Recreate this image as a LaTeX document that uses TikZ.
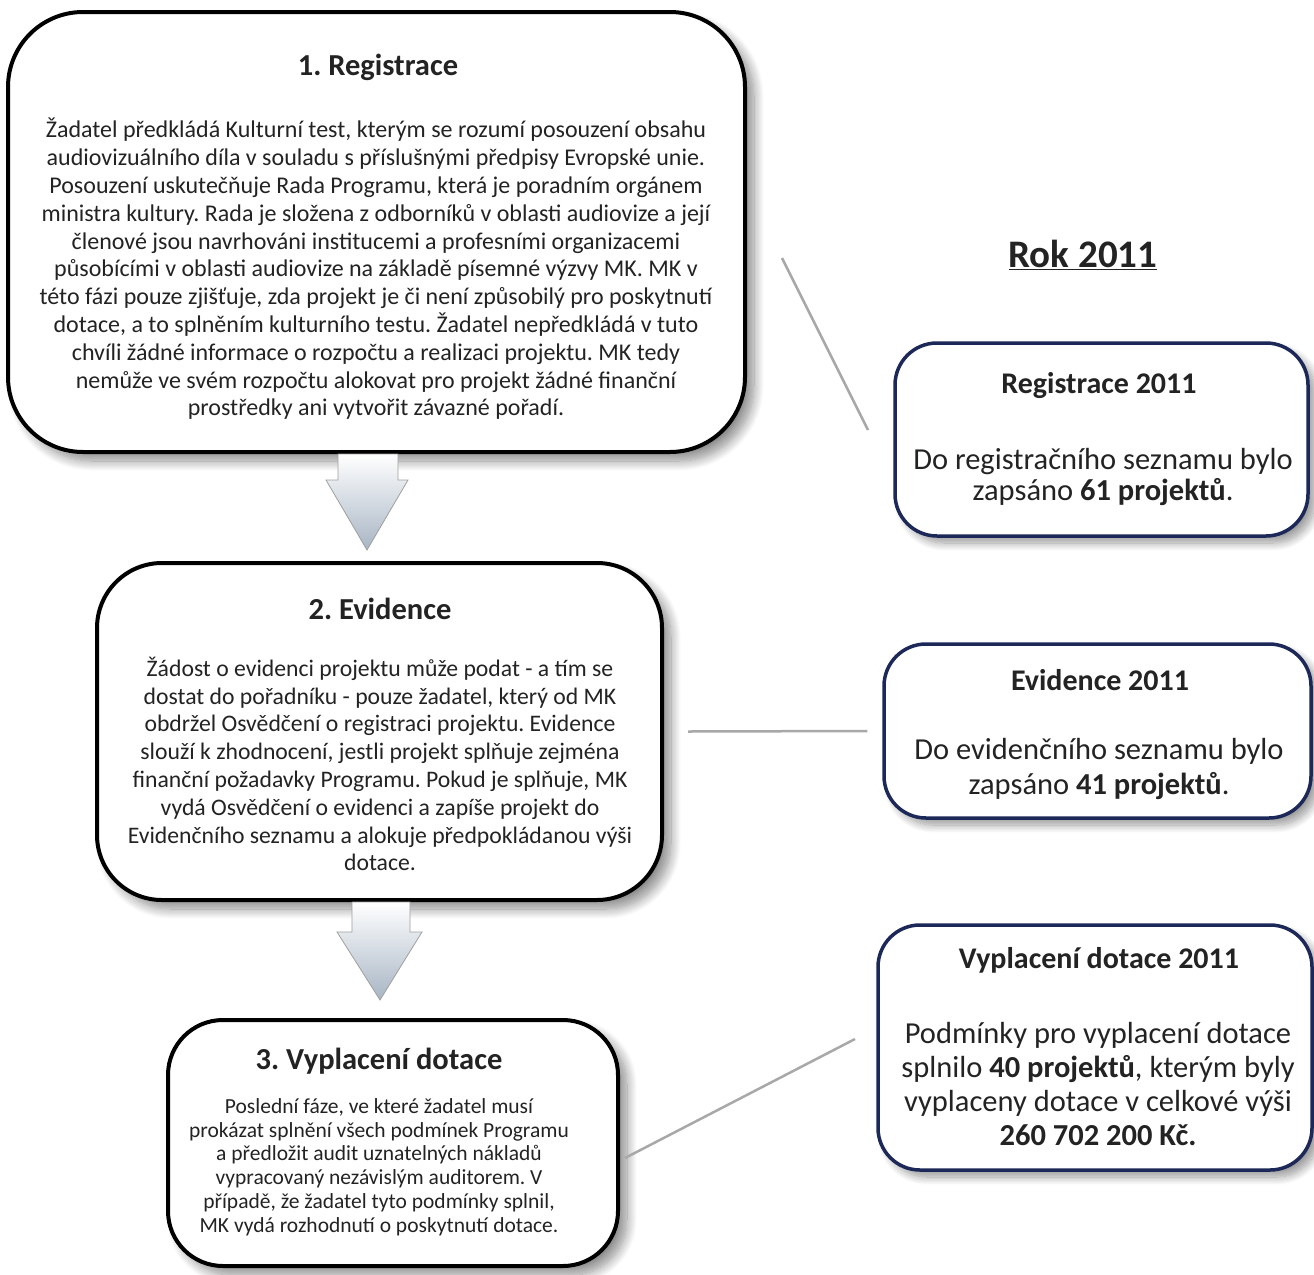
\documentclass[tikz,border=0pt]{standalone}
\usepackage{fontspec}
\setmainfont{Carlito}
\frenchspacing
\usetikzlibrary{shadows.blur}
\definecolor{navyline}{RGB}{28,40,88}
\definecolor{linkgray}{RGB}{168,168,168}
\definecolor{arrowgray}{RGB}{168,181,196}
\definecolor{textgray}{RGB}{35,35,35}

\tikzset{
  stagebox/.style={draw=black, line width=4pt, fill=white, inner sep=0pt,
    blur shadow={shadow xshift=9pt, shadow yshift=-9pt, shadow blur steps=14, shadow blur radius=10pt, shadow opacity=45}},
  yearbox/.style={draw=navyline, line width=3.5pt, fill=white, inner sep=0pt, rounded corners=42pt,
    blur shadow={shadow xshift=7pt, shadow yshift=-7pt, shadow blur steps=12, shadow blur radius=8pt, shadow opacity=40}},
  stagetitle/.style={font=\bfseries\fontsize{30.5}{36}\selectfont, text=textgray, inner sep=0pt},
  stagebody/.style={font=\fontsize{24}{27.8}\selectfont, text=textgray, align=center, inner sep=0pt},
  yeartitle/.style={font=\bfseries\fontsize{30}{36}\selectfont, text=textgray, inner sep=0pt},
  yearbody/.style={font=\fontsize{30.5}{34.3}\selectfont, text=textgray, align=center, inner sep=0pt},
  flowarrow/.style={draw=gray!75, line width=0.8pt, top color=white, bottom color=arrowgray},
  link/.style={draw=linkgray, line width=2.5pt},
}

\begin{document}
\begin{tikzpicture}[x=1pt,y=-1pt]
  \useasboundingbox (0,0) rectangle (1314,1274);
  % stages
  \node[stagebox, rounded corners=75pt, minimum width=737pt, minimum height=440pt] (reg) at (376.5,232) {};
  \node[stagetitle] (regT) at (378,67) {1. Registrace};
  \node[stagebody] (regB) at (376,269) {Žadatel předkládá Kulturní test, kterým se rozumí posouzení obsahu\\
    audiovizuálního díla v souladu s příslušnými předpisy Evropské unie.\\
    Posouzení uskutečňuje Rada Programu, která je poradním orgánem\\
    ministra kultury. Rada je složena z odborníků v oblasti audiovize a její\\
    členové jsou navrhováni institucemi a profesními organizacemi\\
    působícími v oblasti audiovize na základě písemné výzvy MK. MK v\\
    této fázi pouze zjišťuje, zda projekt je či není způsobilý pro poskytnutí\\
    dotace, a to splněním kulturního testu. Žadatel nepředkládá v tuto\\
    chvíli žádné informace o rozpočtu a realizaci projektu. MK tedy\\
    nemůže ve svém rozpočtu alokovat pro projekt žádné finanční\\
    prostředky ani vytvořit závazné pořadí.};

  \node[stagebox, rounded corners=65pt, minimum width=565pt, minimum height=337pt] (evid) at (379.5,731.5) {};
  \node[stagetitle] (evidT) at (380,609) {2. Evidence};
  \node[stagebody, font=\fontsize{23.7}{27.8}\selectfont] (evidB) at (380,764) {Žádost o evidenci projektu může podat - a tím se\\
    dostat do pořadníku - pouze žadatel, který od MK\\
    obdržel Osvědčení o registraci projektu. Evidence\\
    slouží k zhodnocení, jestli projekt splňuje zejména\\
    finanční požadavky Programu. Pokud je splňuje, MK\\
    vydá Osvědčení o evidenci a zapíše projekt do\\
    Evidenčního seznamu a alokuje předpokládanou výši\\
    dotace.};

  \node[stagebox, rounded corners=55pt, minimum width=450pt, minimum height=246pt] (vypl) at (393,1143) {};
  \node[stagetitle] (vyplT) at (379,1061) {3. Vyplacení dotace};
  \node[stagebody, font=\fontsize{21.5}{23.8}\selectfont] (vyplB) at (379,1167) {Poslední fáze, ve které žadatel musí\\
    prokázat splnění všech podmínek Programu\\
    a předložit audit uznatelných nákladů\\
    vypracovaný nezávislým auditorem. V\\
    případě, že žadatel tyto podmínky splnil,\\
    MK vydá rozhodnutí o poskytnutí dotace.};

  % arrows between stages
  \path[flowarrow] (reg.south) ++(-38.5,0) -- ++(0,26) -- ++(-12,0) -- ++(41,70)
    -- ++(41,-70) -- ++(-10,0) -- ++(0,-26) -- cycle;
  \path[flowarrow] (evid.south) ++(-27.5,0) -- ++(0,30) -- ++(-15,0) -- ++(43,68)
    -- ++(42,-68) -- ++(-12,0) -- ++(0,-30) -- cycle;

  % year 2011
  \node[yeartitle, font=\bfseries\fontsize{39}{44}\selectfont] (rok) at (1083,255) {\underline{Rok 2011}};

  \node[yearbox, minimum width=413pt, minimum height=193pt] (regY) at (1101.5,439.5) {};
  \node[yeartitle] (regYT) at (1099,386) {Registrace 2011};
  \node[yearbody, font=\fontsize{30.5}{31}\selectfont] (regYB) at (1103,477) {Do registračního seznamu bylo\\ zapsáno \textbf{61 projektů}.};

  \node[yearbox, minimum width=427pt, minimum height=174pt] (evidY) at (1097.5,731) {};
  \node[yeartitle] (evidYT) at (1100,680) {Evidence 2011};
  \node[yearbody] (evidYB) at (1099,769) {Do evidenčního seznamu bylo\\ zapsáno \textbf{41 projektů}.};

  \node[yearbox, minimum width=434pt, minimum height=245pt] (vyplY) at (1095,1047.5) {};
  \node[yeartitle] (vyplYT) at (1099,960) {Vyplacení dotace 2011};
  \node[yearbody] (vyplYB) at (1098,1084) {Podmínky pro vyplacení dotace\\
    splnilo \textbf{40 projektů}, kterým byly\\
    vyplaceny dotace v celkové výši\\
    \textbf{260 702 200 Kč.}};

  % links
  \coordinate (l1a) at (782,258);
  \coordinate (l1b) at (868,430);
  \draw[link] (l1a) -- (l1b);
  \draw[link] ([xshift=24pt]evid.east) -- ([xshift=-15pt]evidY.west);
  \coordinate (l3a) at (625,1158);
  \coordinate (l3b) at (855,1039);
  \draw[link] (l3a) -- (l3b);
\end{tikzpicture}
\end{document}
